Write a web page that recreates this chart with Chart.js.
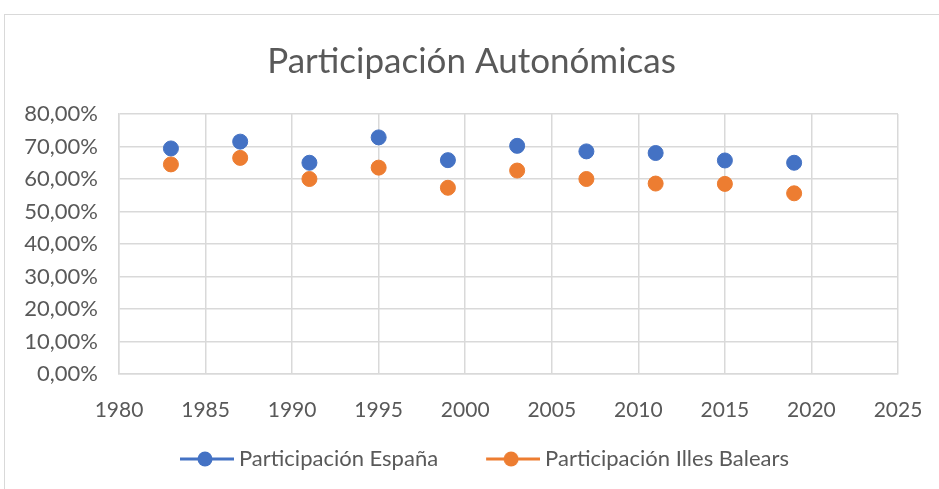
<!DOCTYPE html>
<html>
<head>
<meta charset="utf-8">
<script src="https://cdn.jsdelivr.net/npm/chart.js@4.4.0/dist/chart.umd.min.js"></script>
<style>
  html, body { margin: 0; padding: 0; background: #fff; }
  #wrap { width: 939px; height: 489px; }
</style>
</head>
<body>
<div id="wrap"><canvas id="chart" width="939" height="489"></canvas></div>
<script>
const years = [1983, 1987, 1991, 1995, 1999, 2003, 2007, 2011, 2015, 2019];
const espana = [69.4, 71.5, 65.0, 72.8, 65.8, 70.2, 68.5, 68.0, 65.7, 65.0];
const balears = [64.5, 66.5, 60.0, 63.5, 57.3, 62.6, 60.0, 58.6, 58.5, 55.6];

const blue = '#4472C4';
const orange = '#ED7D31';
const textColor = '#595959';
const gridColor = '#d9d9d9';

// legend marker: blank space on the left (gap between items), then line with a dot.
// the canvas is a bit wider than the legend box so the line ends close to the text
const iconW = 86;
function legendIcon(color) {
    let c = document.createElement('canvas');
    c.width = iconW;
    c.height = 16;
    let g = c.getContext('2d');
    g.strokeStyle = color;
    g.lineWidth = 3;
    g.beginPath();
    g.moveTo(32, 8);
    g.lineTo(86, 8);
    g.stroke();
    g.fillStyle = color;
    g.beginPath();
    g.arc(57, 8, 7.5, 0, Math.PI * 2);
    g.fill();
    return c;
}

function toPoints(xs, ys) {
    return xs.map((x, i) => ({ x: x, y: ys[i] }));
}

// outer frame like the spreadsheet chart box
const frame = {
    id: 'frame',
    beforeDraw(chart) {
        let ctx = chart.ctx;
        ctx.save();
        ctx.fillStyle = '#fff';
        ctx.fillRect(0, 0, chart.width, chart.height);
        ctx.strokeStyle = '#d9d9d9';
        ctx.lineWidth = 1;
        ctx.strokeRect(4.5, 14.5, chart.width + 10, chart.height + 10);
        ctx.restore();
    }
};

Chart.defaults.font.family = 'Lato, "Noto Sans", sans-serif';
Chart.defaults.color = textColor;

const icons = [legendIcon(blue), legendIcon(orange)];

new Chart(document.getElementById('chart'), {
    type: 'scatter',
    data: {
        datasets: [{
            label: 'Participación España',
            data: toPoints(years, espana),
            backgroundColor: blue,
            borderColor: blue,
            pointRadius: 7.5,
            pointHoverRadius: 7.5
        },
        {
            label: 'Participación Illes Balears',
            data: toPoints(years, balears),
            backgroundColor: orange,
            borderColor: orange,
            pointRadius: 7.5,
            pointHoverRadius: 7.5
        }]
    },
    options: {
        responsive: false,
        animation: false,
        layout: { padding: { top: 14, left: 4, right: 0, bottom: 9 } },
        plugins: {
            title: {
                display: true,
                text: 'Participación Autonómicas',
                color: textColor,
                font: { size: 35, weight: 'normal' },
                padding: { top: 27, bottom: 31 }
            },
            legend: {
                position: 'bottom',
                labels: {
                    usePointStyle: true,
                    pointStyleWidth: 74,
                    boxHeight: 16,
                    padding: 22,
                    color: textColor,
                    font: { size: 22 },
                    generateLabels: (chart) => {
                        let items = Chart.defaults.plugins.legend.labels.generateLabels(chart);
                        items.forEach((it, i) => { it.pointStyle = icons[i]; });
                        return items;
                    }
                }
            },
            tooltip: { enabled: false }
        },
        scales: {
            x: {
                type: 'linear',
                min: 1980,
                max: 2025,
                ticks: {
                    stepSize: 5,
                    color: textColor,
                    font: { size: 21 },
                    padding: 0,
                    callback: (v) => String(v)
                },
                // invisible tick marks push the labels down without widening the plot margins
                grid: { color: gridColor, lineWidth: 1.5, drawTicks: true, tickLength: 24, tickColor: 'rgba(0,0,0,0)' },
                border: { color: gridColor, width: 1.5 },
                afterFit: (s) => { s.height = 52; }
            },
            y: {
                min: 0,
                max: 80,
                ticks: {
                    stepSize: 10,
                    color: textColor,
                    font: { size: 22 },
                    padding: 21,
                    callback: (v) => v.toFixed(2).replace('.', ',') + '%'
                },
                grid: { color: gridColor, lineWidth: 1.5, drawTicks: false },
                border: { color: gridColor, width: 1.5 },
                afterFit: (s) => { s.width = 115; }
            },
            // empty axis that only keeps the right margin of the plot
            y2: {
                position: 'right',
                display: true,
                grid: { display: false },
                border: { display: false },
                ticks: { display: false },
                afterFit: (s) => { s.width = 41; }
            }
        }
    },
    plugins: [frame]
});
</script>
</body>
</html>
